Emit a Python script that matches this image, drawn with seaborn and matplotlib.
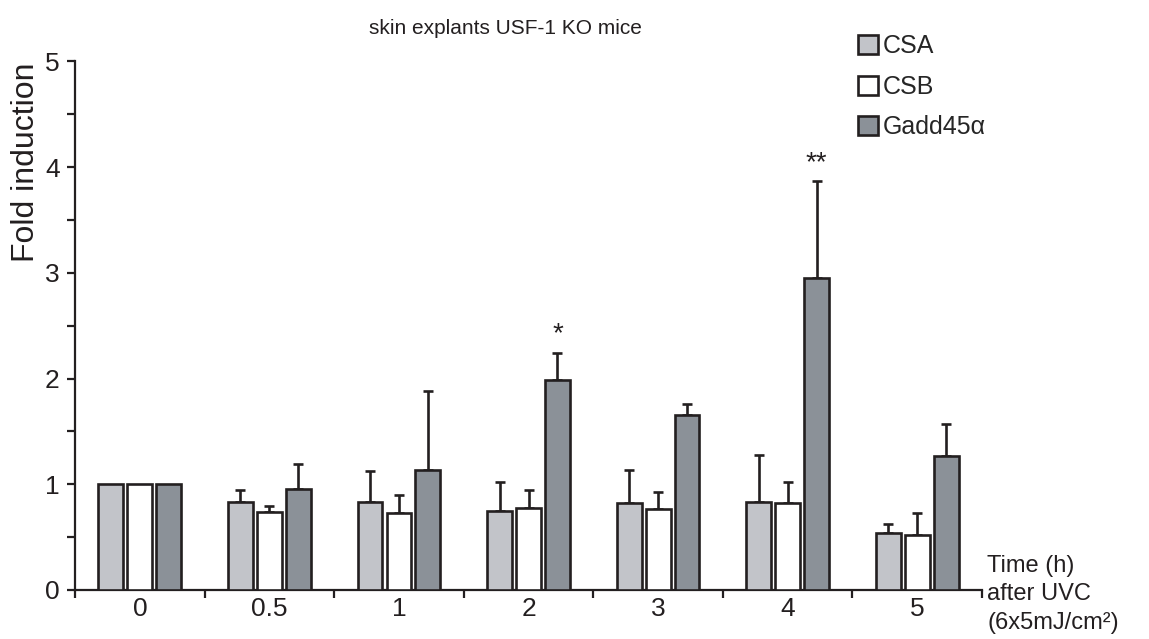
import numpy as np
import pandas as pd
import matplotlib
matplotlib.use("Agg")
import matplotlib.pyplot as plt
from matplotlib.ticker import MultipleLocator
import seaborn as sns

# values
times = ["0", "0.5", "1", "2", "3", "4", "5"]
genes = ["CSA", "CSB", "Gadd45α"]
csa = [1.0, 0.83, 0.835, 0.75, 0.825, 0.835, 0.535]
csb = [1.0, 0.74, 0.73, 0.78, 0.765, 0.82, 0.52]
gadd = [1.0, 0.955, 1.135, 1.985, 1.66, 2.95, 1.265]
csa_err = [0.0, 0.115, 0.295, 0.27, 0.31, 0.445, 0.09]
csb_err = [0.0, 0.05, 0.17, 0.165, 0.16, 0.2, 0.205]
gadd_err = [0.0, 0.235, 0.745, 0.26, 0.1, 0.915, 0.31]
stars = {"2": "*", "4": "**"}

colors = ["#c1c4ca", "#ffffff", "#89919a"]
edge = "#231f20"

sns.set_style("ticks")
plt.rcParams["font.family"] = ["Liberation Sans", "DejaVu Sans"]

df = pd.DataFrame({
    "time": times * 3,
    "gene": np.repeat(genes, len(times)),
    "fold": csa + csb + gadd,
})
errs = [csa_err, csb_err, gadd_err]

fig = plt.figure(figsize=(11.49, 6.39), dpi=100)
ax = fig.add_axes([0.0653, 0.0767, 0.7894, 0.8271])

sns.barplot(data=df, x="time", y="fold", hue="gene", order=times, hue_order=genes,
            palette=colors, width=0.67, gap=0.14, edgecolor=edge, linewidth=1.9,
            errorbar=None, legend=True, ax=ax, zorder=3)

# upper error bars, placed on the seaborn bar positions
bars = ax.patches[:len(times) * len(genes)]
for g in range(len(genes)):
    for i in range(len(times)):
        e = errs[g][i]
        if e <= 0:
            continue
        p = bars[g * len(times) + i]
        xc = p.get_x() + p.get_width() / 2
        ax.errorbar(xc, p.get_height(), yerr=[[0], [e]], fmt="none", ecolor=edge,
                    elinewidth=1.9, capsize=3.3, capthick=1.9, zorder=2)

gi = genes.index("Gadd45α")
for t, s in stars.items():
    i = times.index(t)
    p = bars[gi * len(times) + i]
    xc = p.get_x() + p.get_width() / 2
    ax.text(xc, gadd[i] + gadd_err[i] + 0.05, s, ha="center", va="bottom",
            fontsize=20, color=edge)

ax.set_xlim(-0.5, len(times) - 0.5)
ax.set_ylim(0, 5)
ax.yaxis.set_major_locator(MultipleLocator(1))
ax.yaxis.set_minor_locator(MultipleLocator(0.5))
ax.set_xticks(np.arange(len(times)))
ax.set_xticklabels(times)
ax.set_xticks(np.arange(-0.5, len(times)), minor=True)
ax.tick_params(axis="x", which="major", length=0, labelsize=19, pad=5, colors=edge)
ax.tick_params(axis="x", which="minor", length=6, width=1.6, color=edge)
ax.tick_params(axis="y", which="both", length=6, width=1.6, labelsize=19, pad=5, colors=edge)
for s in ["top", "right"]:
    ax.spines[s].set_visible(False)
for s in ["left", "bottom"]:
    ax.spines[s].set_linewidth(1.6)
    ax.spines[s].set_color(edge)

ax.set_xlabel("")
ax.set_ylabel("Fold induction", fontsize=23, color=edge)
ax.yaxis.set_label_coords(-0.038, 0.81)

ax.text(1.006, -0.008, "Time (h)\nafter UVC\n(6x5mJ/cm²)", transform=ax.transAxes,
        ha="left", va="center", fontsize=17, linespacing=1.38, color=edge)
fig.text(0.44, 0.956, "skin explants USF-1 KO mice", ha="center", va="center",
         fontsize=15, color=edge)

handles, labels = ax.get_legend_handles_labels()
ax.get_legend().remove()
fig.legend(handles, labels, loc="upper left", bbox_to_anchor=(0.738, 0.962),
           bbox_transform=fig.transFigure, frameon=False, fontsize=18,
           handlelength=0.8, handleheight=0.8, handletextpad=0.2, labelspacing=0.66,
           borderaxespad=0)

fig.savefig("out.png", dpi=100)
